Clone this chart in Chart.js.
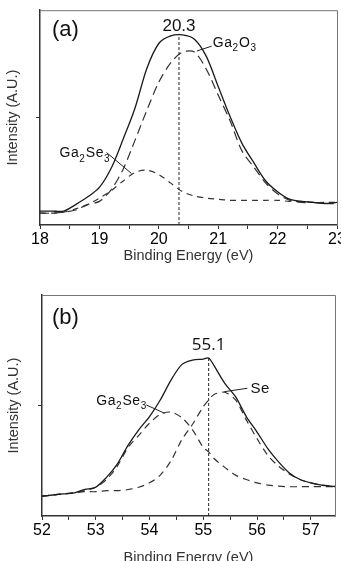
<!DOCTYPE html>
<html>
<head>
<meta charset="utf-8">
<script src="https://cdn.jsdelivr.net/npm/chart.js@4.4.1/dist/chart.umd.min.js"></script>
<style>
  html, body { margin: 0; padding: 0; background: #fff; overflow: hidden; }
  body { width: 341px; height: 561px; position: relative; }
  canvas { position: absolute; left: 0; }
  #panelA { top: 0; }
  #panelB { top: 280px; }
</style>
</head>
<body>
<canvas id="panelA" width="360" height="270"></canvas>
<canvas id="panelB" width="360" height="290"></canvas>
<script>
// Panel (a): Ga 3d region
const energyA = [18.0, 18.2, 18.4, 18.6, 18.8, 19.0, 19.2, 19.4, 19.6, 19.8, 20.0, 20.2, 20.4,
                 20.6, 20.8, 21.0, 21.2, 21.4, 21.6, 21.8, 22.0, 22.2, 22.4, 22.6, 22.8, 23.0];
const totalA   = [0.13, 0.13, 0.13, 0.19, 0.26, 0.35, 0.53, 0.80, 1.09, 1.46, 1.69, 1.76, 1.77,
                  1.73, 1.57, 1.29, 1.01, 0.76, 0.58, 0.41, 0.31, 0.24, 0.22, 0.21, 0.20, 0.21];
const ga2o3A   = [0.11, 0.11, 0.12, 0.14, 0.19, 0.22, 0.33, 0.52, 0.79, 1.07, 1.33, 1.51, 1.61,
                  1.61, 1.45, 1.21, 0.97, 0.69, 0.54, 0.39, 0.29, 0.23, 0.21, 0.21, 0.20, 0.20];
const ga2se3A  = [0.11, 0.11, 0.12, 0.15, 0.19, 0.25, 0.32, 0.41, 0.49, 0.51, 0.47, 0.39, 0.31,
                  0.27, 0.25, 0.24, 0.23, 0.23, 0.23, 0.23, 0.23, 0.22, 0.22, 0.21, 0.21, 0.21];

// Panel (b): Se 3d region
const energyB = [52.0, 52.2, 52.4, 52.6, 52.8, 53.0, 53.2, 53.4, 53.6, 53.8, 54.0, 54.2, 54.4, 54.6, 54.8,
                 55.0, 55.1, 55.2, 55.4, 55.6, 55.8, 56.0, 56.2, 56.4, 56.6, 56.8, 57.0, 57.2, 57.45];
const totalB   = [0.18, 0.19, 0.20, 0.21, 0.24, 0.26, 0.35, 0.47, 0.64, 0.78, 0.90, 1.05, 1.23, 1.37, 1.41,
                  1.42, 1.43, 1.36, 1.20, 1.08, 0.90, 0.76, 0.61, 0.49, 0.39, 0.33, 0.30, 0.28, 0.265];
const seB      = [0.18, 0.19, 0.20, 0.21, 0.22, 0.22, 0.23, 0.23, 0.24, 0.26, 0.30, 0.37, 0.50, 0.69, 0.83,
                  0.99, 1.05, 1.10, 1.12, 1.05, 0.87, 0.70, 0.55, 0.45, 0.38, 0.33, 0.30, 0.28, 0.27];
const ga2se3B  = [0.18, 0.19, 0.20, 0.21, 0.23, 0.26, 0.33, 0.45, 0.62, 0.73, 0.84, 0.92, 0.94, 0.89, 0.78,
                  0.62, 0.58, 0.52, 0.44, 0.37, 0.33, 0.30, 0.28, 0.27, 0.265, 0.265, 0.265, 0.265, 0.265];

// peak markers: energy, height of the dashed guide, label
const peakEnergy = [20.34, 55.1];
const peakHeight = [1.78, 1.43];
const peakLabels = ['20.3', '55.1'];

const xTicksA = [18, 23];
const xTicksB = [52, 57.45];

const FONT = '"Liberation Sans", Arial, Helvetica, sans-serif';
Chart.defaults.font.family = FONT;
Chart.defaults.color = '#111';

function pts(xs, ys) {
    return xs.map((x, i) => ({ x: x, y: ys[i] }));
}

// draws "Ga2O3" style labels with digits as subscripts
function drawChem(ctx, text, x, y, size) {
    let cx = x;
    for (const ch of text) {
        const sub = /[0-9]/.test(ch);
        ctx.font = (sub ? Math.round(size * 0.7) : size) + 'px ' + FONT;
        ctx.fillText(ch, cx, sub ? y + size * 0.3 : y);
        cx += ctx.measureText(ch).width + (sub ? 1 : 0.5);
    }
}

const panelDecor = {
    id: 'panelDecor',
    afterDatasetsDraw(chart, args, opts) {
        const { ctx, chartArea: a, scales: { x, y } } = chart;
        ctx.save();

        // top and right frame
        ctx.strokeStyle = '#777';
        ctx.lineWidth = 1;
        ctx.beginPath();
        ctx.moveTo(a.left, a.top + 0.5);
        ctx.lineTo(a.right + 0.5, a.top + 0.5);
        ctx.lineTo(a.right + 0.5, a.bottom);
        ctx.stroke();

        // panel letter
        ctx.fillStyle = '#111';
        ctx.textAlign = 'left';
        ctx.textBaseline = 'middle';
        ctx.font = '22px ' + FONT;
        ctx.fillText(opts.letter, a.left + opts.letterDx, a.top + opts.letterDy);

        // peak value above the guide line
        ctx.textAlign = 'center';
        ctx.font = opts.peakFont;
        ctx.fillText(opts.peakText, x.getPixelForValue(opts.peakX), y.getPixelForValue(opts.peakLabelY));

        // component labels with leader lines
        ctx.strokeStyle = '#222';
        ctx.lineWidth = 1;
        ctx.textAlign = 'left';
        ctx.textBaseline = 'alphabetic';
        opts.notes.forEach(n => {
            drawChem(ctx, n.text, x.getPixelForValue(n.x), y.getPixelForValue(n.y), n.size);
            ctx.beginPath();
            ctx.moveTo(x.getPixelForValue(n.line[0]), y.getPixelForValue(n.line[1]));
            ctx.lineTo(x.getPixelForValue(n.line[2]), y.getPixelForValue(n.line[3]));
            ctx.stroke();
        });
        ctx.restore();
    }
};

function makePanel(id, cfg) {
    const datasets = cfg.series.map(s => ({
        data: pts(cfg.energy, s.values),
        borderColor: s.color,
        borderWidth: s.width,
        borderDash: s.dash,
        pointRadius: 0,
        tension: 0.3,
        fill: false
    }));
    datasets.push({
        data: [{ x: cfg.peakX, y: 0 }, { x: cfg.peakX, y: cfg.peakTop }],
        borderColor: '#222',
        borderWidth: 1,
        borderDash: [3, 2],
        pointRadius: 0
    });

    new Chart(document.getElementById(id).getContext('2d'), {
        type: 'line',
        data: { datasets: datasets },
        options: {
            responsive: false,
            animation: false,
            layout: { padding: { top: cfg.padTop, right: cfg.padRight, left: 0, bottom: 0 } },
            plugins: {
                legend: { display: false },
                tooltip: { enabled: false },
                panelDecor: cfg.decor
            },
            scales: {
                x: {
                    type: 'linear',
                    min: cfg.xRange[0],
                    max: cfg.xRange[1],
                    afterFit: s => { s.height = cfg.xHeight; },
                    border: { color: '#333', width: 1.5 },
                    grid: { drawOnChartArea: false, drawTicks: true, tickLength: 4, tickColor: '#333' },
                    ticks: {
                        stepSize: 0.5,
                        includeBounds: false,
                        maxRotation: 0,
                        autoSkip: false,
                        padding: 1,
                        color: '#000',
                        font: { size: 16 },
                        callback: v => Number.isInteger(v) ? v : ''
                    },
                    title: {
                        display: true,
                        text: 'Binding Energy (eV)',
                        color: '#333',
                        font: { size: 14.5 },
                        padding: { top: 0, bottom: cfg.titlePad }
                    }
                },
                y: {
                    min: 0,
                    max: 2,
                    afterFit: s => { s.width = cfg.yWidth; },
                    border: { color: '#333', width: 1.5 },
                    grid: {
                        drawOnChartArea: false,
                        tickLength: 4,
                        tickColor: c => c.tick && c.tick.value === 1 ? '#333' : 'rgba(0,0,0,0)'
                    },
                    ticks: { stepSize: 1, callback: () => '' },
                    title: {
                        display: true,
                        text: 'Intensity (A.U.)',
                        color: '#333',
                        font: { size: 14.5 },
                        padding: { top: cfg.yTitlePad, bottom: 0 }
                    }
                }
            }
        },
        plugins: [panelDecor]
    });
}

makePanel('panelA', {
    energy: energyA,
    series: [
        { values: totalA, color: '#1a1a1a', width: 1.3, dash: [] },
        { values: ga2o3A, color: '#333', width: 1.2, dash: [9, 5] },
        { values: ga2se3A, color: '#333', width: 1.2, dash: [6, 5] }
    ],
    xRange: xTicksA,
    peakX: peakEnergy[0],
    peakTop: peakHeight[0],
    padTop: 3, padRight: 23, xHeight: 45, yWidth: 40, titlePad: 5, yTitlePad: 4,
    decor: {
        letter: '(a)', letterDx: 12, letterDy: 20,
        peakText: peakLabels[0], peakX: peakEnergy[0], peakLabelY: 1.85,
        peakFont: '17px ' + FONT,
        notes: [
            { text: 'Ga2O3', x: 20.91, y: 1.66, size: 14, line: [20.64, 1.62, 20.89, 1.665] },
            { text: 'Ga2Se3', x: 18.33, y: 0.63, size: 14, line: [19.12, 0.675, 19.54, 0.48] }
        ]
    }
});

makePanel('panelB', {
    energy: energyB,
    series: [
        { values: totalB, color: '#1a1a1a', width: 1.3, dash: [] },
        { values: seB, color: '#333', width: 1.2, dash: [7, 5] },
        { values: ga2se3B, color: '#333', width: 1.2, dash: [7, 5] }
    ],
    xRange: xTicksB,
    peakX: peakEnergy[1],
    peakTop: peakHeight[1],
    padTop: 15, padRight: 25, xHeight: 54, yWidth: 42, titlePad: 3, yTitlePad: 5,
    decor: {
        letter: '(b)', letterDx: 10, letterDy: 23,
        peakText: peakLabels[1], peakX: peakEnergy[1], peakLabelY: 1.55,
        peakFont: '17px "Open Sans", ' + FONT,
        notes: [
            { text: 'Ga2Se3', x: 53.01, y: 1.005, size: 14, line: [53.94, 1.005, 54.28, 0.93] },
            { text: 'Se', x: 55.88, y: 1.113, size: 15, line: [55.39, 1.125, 55.82, 1.156] }
        ]
    }
});
</script>
</body>
</html>
